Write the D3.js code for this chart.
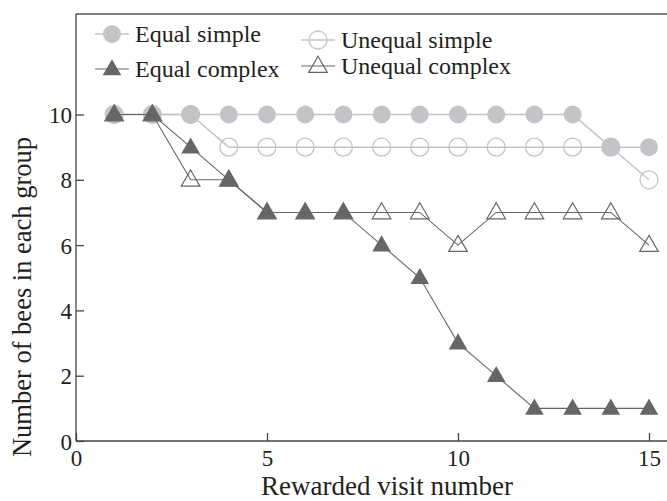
<!DOCTYPE html>
<html>
<head>
<meta charset="utf-8">
<script src="https://cdn.jsdelivr.net/npm/d3@7"></script>
<style>
body { margin: 0; background: #fff; }
text { font-family: "Liberation Serif", "DejaVu Serif", serif; fill: #231f20; }
</style>
</head>
<body>
<div id="chart"></div>
<script>
var visits = [1, 2, 3, 4, 5, 6, 7, 8, 9, 10, 11, 12, 13, 14, 15];
var equalSimple = [10, 10, 10, 10, 10, 10, 10, 10, 10, 10, 10, 10, 10, 9, 9];
var unequalSimple = [10, 10, 10, 9, 9, 9, 9, 9, 9, 9, 9, 9, 9, 9, 8];
var equalComplex = [10, 10, 9, 8, 7, 7, 7, 6, 5, 3, 2, 1, 1, 1, 1];
var unequalComplex = [10, 10, 8, 8, 7, 7, 7, 7, 7, 6, 7, 7, 7, 7, 6];
var xTicks = [0, 5, 10, 15];
var yTicks = [0, 2, 4, 6, 8, 10];

var W = 667, H = 501;
var light = '#c3c4c7', dark = '#666666';

var svg = d3.select('#chart')
	.append('svg')
	.attr('width', W)
	.attr('height', H);

var x = d3.scaleLinear().domain([0, 15]).range([76, 649]);
var y = d3.scaleLinear().domain([0, 10]).range([441, 114.5]);

// frame: top line, left axis, bottom axis
svg.append('line').attr('x1', 76).attr('x2', W).attr('y1', 14).attr('y2', 14)
	.style('stroke', '#555').style('stroke-width', 1.5);
svg.append('line').attr('x1', 76).attr('x2', W).attr('y1', y(0)).attr('y2', y(0))
	.style('stroke', '#444').style('stroke-width', 1.3);
svg.append('line').attr('x1', 76).attr('x2', 76).attr('y1', 14).attr('y2', y(0))
	.style('stroke', '#444').style('stroke-width', 1.3);

var xAxis = svg.append('g')
	.attr('transform', 'translate(0,' + y(0) + ')')
	.call(d3.axisBottom(x).tickValues(xTicks).tickSize(-8).tickPadding(11).tickFormat(d3.format('d')));
var yAxis = svg.append('g')
	.attr('transform', 'translate(76,0)')
	.call(d3.axisLeft(y).tickValues(yTicks).tickSize(-8).tickPadding(4).tickFormat(d3.format('d')));

[xAxis, yAxis].forEach(function(a) {
	a.select('.domain').remove();
	a.selectAll('line').style('stroke', '#444').style('stroke-width', 1.3);
	a.selectAll('text').style('font-size', '23px').style('font-family', '"Liberation Serif", serif').style('fill', '#231f20');
});
xAxis.selectAll('text').attr('dy', '0.6em');
yAxis.selectAll('text').attr('dy', '0.35em');

svg.append('text')
	.attr('x', 387).attr('y', 495)
	.attr('text-anchor', 'middle')
	.style('font-size', '27px')
	.text('Rewarded visit number');
svg.append('text')
	.attr('transform', 'translate(31,297) rotate(-90)')
	.attr('text-anchor', 'middle')
	.style('font-size', '26.5px')
	.text('Number of bees in each group');

var tri = d3.symbol().type(d3.symbolTriangle).size(150);

var series = [
	{ name: 'Equal simple', values: equalSimple, line: light, lw: 1.5, shape: 'circle', fill: light, stroke: 'none' },
	{ name: 'Unequal simple', values: unequalSimple, line: light, lw: 1.5, shape: 'circle', fill: 'none', stroke: light },
	{ name: 'Unequal complex', values: unequalComplex, line: dark, lw: 1.1, shape: 'tri', fill: 'none', stroke: dark },
	{ name: 'Equal complex', values: equalComplex, line: dark, lw: 1.1, shape: 'tri', fill: dark, stroke: 'none' }
];

var line = d3.line()
	.x(function(d) { return x(d[0]); })
	.y(function(d) { return y(d[1]); });

function drawMarker(g, shape, cx, cy, s) {
	if (shape === 'circle') {
		return g.append('circle').attr('cx', cx).attr('cy', cy).attr('r', 9)
			.style('fill', s.fill).style('stroke', s.stroke).style('stroke-width', 1.3);
	}
	return g.append('path').attr('d', tri).attr('transform', 'translate(' + cx + ',' + (cy + 1) + ')')
		.style('fill', s.fill).style('stroke', s.stroke).style('stroke-width', 1.2);
}

series.forEach(function(s) {
	var pts = visits.map(function(v, i) { return [v, s.values[i]]; });
	var g = svg.append('g');
	g.append('path')
		.attr('d', line(pts))
		.style('fill', 'none')
		.style('stroke', s.line)
		.style('stroke-width', s.lw);
	pts.forEach(function(p) {
		drawMarker(g, s.shape, x(p[0]), y(p[1]), s);
	});
});

// legend
var legend = [
	{ s: series[0], x: 95, y: 34 },
	{ s: series[3], x: 95, y: 69 },
	{ s: series[1], x: 301, y: 40 },
	{ s: series[2], x: 301, y: 66 }
];
legend.forEach(function(l) {
	var g = svg.append('g');
	g.append('line').attr('x1', l.x).attr('x2', l.x + 34).attr('y1', l.y).attr('y2', l.y)
		.style('stroke', l.s.line).style('stroke-width', l.s.lw);
	drawMarker(g, l.s.shape, l.x + 17, l.y, l.s);
	g.append('text').attr('x', l.x + 40).attr('y', l.y).attr('dy', '0.32em')
		.style('font-size', '24px')
		.text(l.s.name);
});
</script>
</body>
</html>
